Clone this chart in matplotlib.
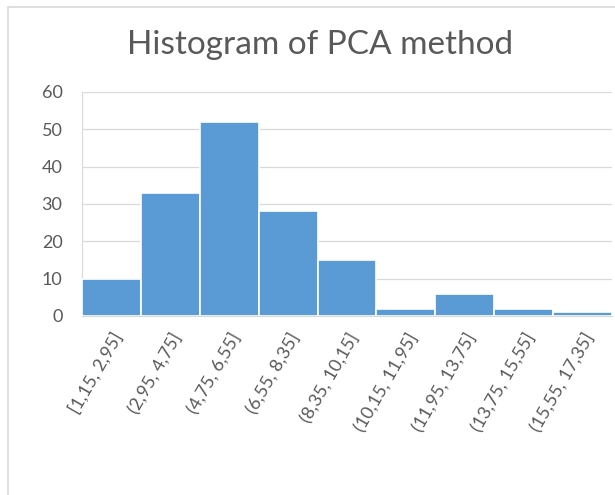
import matplotlib.pyplot as plt
from matplotlib.patches import Rectangle

bins = ['[1,15, 2,95]', '(2,95, 4,75]', '(4,75, 6,55]', '(6,55, 8,35]',
        '(8,35, 10,15]', '(10,15, 11,95]', '(11,95, 13,75]',
        '(13,75, 15,55]', '(15,55, 17,35]']
counts = [10, 33, 52, 28, 15, 2, 6, 2, 1]
yticks = [0, 10, 20, 30, 40, 50, 60]

plt.rcParams['font.family'] = ['Lato', 'DejaVu Sans']

fig = plt.figure(figsize=(6.15, 4.95), dpi=100)
ax = fig.add_axes([82/615, (495-316)/495, 530/615, 224/495])

x = range(len(counts))
ax.bar(x, counts, width=1.0, color='#5B9BD5', edgecolor='white', linewidth=1.2, zorder=3)

ax.set_xlim(-0.5, len(counts) - 0.5)
ax.set_ylim(0, 60)
ax.set_yticks(yticks)
ax.grid(axis='y', color='#D9D9D9', linewidth=0.9, zorder=0)
ax.set_xticks(list(x))
ax.set_xticklabels(bins, rotation=60, ha='right', rotation_mode='anchor')

for s in ['top', 'right']:
    ax.spines[s].set_visible(False)
ax.spines['left'].set_color('#D9D9D9')
ax.spines['bottom'].set_color('#D9D9D9')
ax.tick_params(length=0, colors='#595959', labelsize=13)
ax.tick_params(axis='y', pad=14)
ax.tick_params(axis='x', pad=10)

fig.text(320/615, 1 - 45/495, 'Histogram of PCA method', ha='center', va='center',
         fontsize=24, color='#595959')

# chart border
fig.patches.append(Rectangle((8/615, -0.1), 1.2, 1 - 7/495 + 0.1, transform=fig.transFigure,
                             fill=False, edgecolor='#D9D9D9', linewidth=1.2, clip_on=False))

fig.savefig('out.png', dpi=100)
